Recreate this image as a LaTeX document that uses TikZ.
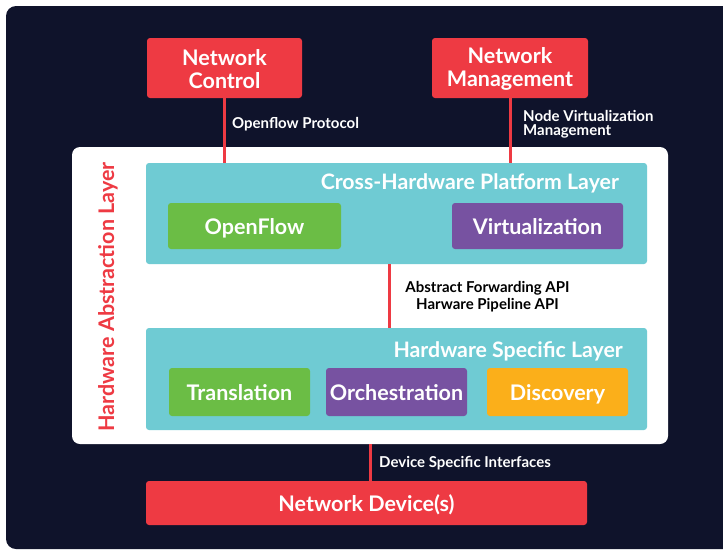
\documentclass[tikz,border=0pt]{standalone}
\usepackage{fontspec}
\setmainfont{Lato}
\definecolor{navy}{HTML}{0F132B}
\definecolor{nred}{HTML}{EE3A43}
\definecolor{nteal}{HTML}{6FCBD3}
\definecolor{ngreen}{HTML}{6BBD45}
\definecolor{npurple}{HTML}{7752A1}
\definecolor{norange}{HTML}{FBAF1A}
\begin{document}
\begin{tikzpicture}[x=1pt,y=-1pt,
  box/.style={rectangle, rounded corners=3pt, inner sep=0pt, text=white, font=\bfseries\fontsize{21.5}{23}\selectfont, align=center, text height=17.5pt, text depth=0pt},
  twoline/.style={text height={}, text depth={}},
  redbox/.style={box, fill=nred},
  tealbox/.style={rectangle, rounded corners=3pt, inner sep=0pt, fill=nteal},
  layertitle/.style={text=white, font=\bfseries\fontsize{21.3}{23}\selectfont, inner sep=0pt},
  lbl/.style={font=\bfseries\fontsize{15}{15}\selectfont, inner sep=0pt, align=left},
  conn/.style={draw=nred, line width=3pt}]
\useasboundingbox (0,0) rectangle (723,550);
\fill[white] (0,0) rectangle (723,550);
\fill[navy, rounded corners=10pt] (6,6) rectangle (740,549);
% top boxes
\node[redbox, twoline, minimum width=155pt, minimum height=60pt] (nc) at (224.5,68) {};
\node[text=white, font=\bfseries\fontsize{21.5}{23}\selectfont, align=center, inner sep=0pt] (nct) at (224.5,69) {Network\\Control};
\node[redbox, twoline, minimum width=156pt, minimum height=60pt] (nm) at (510,68) {};
\node[text=white, font=\bfseries\fontsize{21.5}{23}\selectfont, align=center, inner sep=0pt] (nmt) at (510,69) {Network\\Management};
% white abstraction layer
\node[rectangle, rounded corners=8pt, fill=white, minimum width=596pt, minimum height=297pt, inner sep=0pt] (hal) at (370,295.5) {};
\node[text=nred, font=\bfseries\fontsize{21.5}{23}\selectfont, rotate=90, inner sep=0pt] (haltxt) at (108,297) {Hardware Abstraction Layer};
% cross hardware layer
\node[tealbox, minimum width=501pt, minimum height=101pt] (cross) at (396.5,213.5) {};
\node[layertitle, anchor=east] (crosst) at (619,183) {Cross-Hardware Platform Layer};
\node[box, fill=ngreen, minimum width=173pt, minimum height=46pt] (of) at (254.5,226) {OpenFlow};
\node[box, fill=npurple, minimum width=171pt, minimum height=46pt] (virt) at (537.5,226) {Virtualization};
% hardware specific layer
\node[tealbox, minimum width=501pt, minimum height=102pt] (hsl) at (396.5,379) {};
\node[layertitle, anchor=east] (hslt) at (623,351) {Hardware Specific Layer};
\node[box, fill=ngreen, minimum width=141pt, minimum height=48pt] (trans) at (239.5,392) {Translation};
\node[box, fill=npurple, minimum width=141pt, minimum height=48pt] (orch) at (396.5,392) {Orchestration};
\node[box, fill=norange, minimum width=141pt, minimum height=48pt] (disc) at (557.5,392) {Discovery};
% device
\node[redbox, minimum width=441pt, minimum height=44pt] (dev) at (366.5,503) {Network Device(s)};
% connectors
\coordinate (m1) at (389,264);
\coordinate (d1) at (370,444);
\draw[conn] (nc.south) -- (nc.south |- cross.north);
\draw[conn] (nm.south) -- (nm.south |- cross.north);
\draw[conn] (m1) -- (m1 |- hsl.north);
\draw[conn] (d1) -- (d1 |- dev.north);
% labels
\node[lbl, text=white, anchor=west] (l1) at (232,124) {Openflow Protocol};
\node[lbl, text=white, anchor=west, font=\bfseries\fontsize{15}{14}\selectfont] (l2) at (523,124) {Node Virtualization\\Management};
\node[lbl, text=black, align=center, font=\bfseries\fontsize{15}{17}\selectfont] (l3) at (487.5,296.5) {Abstract Forwarding API\\Harware Pipeline API};
\node[lbl, text=white, anchor=west] (l4) at (379,463) {Device Specific Interfaces};
\end{tikzpicture}
\end{document}
